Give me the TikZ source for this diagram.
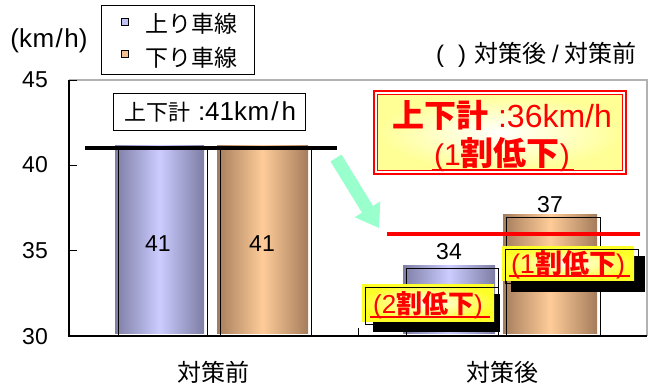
\documentclass[tikz,border=0pt]{standalone}
\usepackage{fontspec}
\setmainfont{Liberation Sans}
\newfontfamily\cjk{Noto Sans CJK JP}
\newcommand\fs[1]{\fontsize{#1}{#1}\selectfont}
\definecolor{bluedark}{RGB}{125,125,165}
\definecolor{bluelight}{RGB}{204,204,255}
\definecolor{ordark}{RGB}{165,125,92}
\definecolor{orlight}{RGB}{255,204,153}
\definecolor{mint}{RGB}{153,255,204}
\definecolor{pyellow}{RGB}{255,255,150}
\definecolor{syellow}{RGB}{255,255,40}
\definecolor{cred}{RGB}{255,0,0}
\tikzset{
  bluebar/.style={left color=bluedark, right color=bluedark, middle color=bluelight},
  orbar/.style={left color=ordark, right color=ordark, middle color=orlight},
  barline/.style={draw=black, line width=1pt},
  ylab/.style={anchor=east, inner sep=0pt, font=\fs{23}},
  lbl/.style={inner sep=0pt},
  callfill/.style={inner color=white, outer color=pyellow},
  smallfill/.style={inner color=white, outer color=syellow},
  uline/.style={draw=cred, line width=2.5pt},
}
\begin{document}
\begin{tikzpicture}[x=1pt,y=-1pt]
\useasboundingbox[fill=white] (0,0) rectangle (653,388);

% plot frame
\draw[gray!60, line width=1.2pt] (69,80) -- (647,80) -- (647,336);
% bars
\shade[bluebar] (115,145) rectangle (204,333);
\draw[barline] (118,148) rectangle (207,336);
\shade[orbar] (217,145) rectangle (308,333);
\draw[barline] (220,148) rectangle (311,336);
\shade[bluebar] (403,265) rectangle (495,333);
\draw[barline] (406,268) rectangle (498,336);
\shade[orbar] (503,214) rectangle (597,333);
\draw[barline] (506,217) rectangle (600,336);
% axes
\draw[line width=1.2pt] (69,80) -- (69,336) -- (647,336);
\foreach \yy in {80,165.3,250.7} \draw[line width=1pt] (69,\yy) -- (77,\yy);
\draw[line width=1pt] (358,336) -- (358,328);

% y labels
\node[ylab] (y45) at (48,80) {45};
\node[ylab] (y40) at (48,165) {40};
\node[ylab] (y35) at (48,251) {35};
\node[ylab] (y30) at (48,337) {30};
\node[lbl, font=\fs{26}] (unit) at (49,41) {(k\kern0.5pt m\kern1.5pt/\kern1.5pt h)};

% legend
\draw[line width=1pt] (101,5) rectangle (254,74);
\draw[line width=0.8pt, fill=bluelight!85!bluedark] (121.7,18) rectangle (128.5,25);
\draw[line width=0.8pt, fill=orlight!85!ordark] (121.7,50) rectangle (128.5,57);
\node[lbl, anchor=west, font=\cjk\fs{23}] (leg1) at (145,24) {上り車線};
\node[lbl, anchor=west, font=\cjk\fs{23}] (leg2) at (145,58) {下り車線};

% note top right
\node[lbl, anchor=east, font=\fs{24}] (note) at (637,55) {(\kern14pt)\kern8pt{\cjk 対策後}\kern6pt/\kern6pt{\cjk 対策前}};

% category labels
\node[lbl, font=\cjk\fs{24}] (c1) at (213,372) {対策前};
\node[lbl, font=\cjk\fs{24}] (c2) at (502,372) {対策後};

% bar values
\node[lbl, font=\fs{23}] (v1) at (158,244) {41};
\node[lbl, font=\fs{23}] (v2) at (262,244) {41};
\node[lbl, font=\fs{23}] (v3) at (449,252) {34};
\node[lbl, font=\fs{23}] (v4) at (550,205) {37};

% before-total box
\node[draw, line width=1pt, fill=white, minimum width=192pt, minimum height=37pt, inner sep=0pt] (tot1) at (209,111.5) {};
\node[lbl, font=\fs{26}] (tot1t) at (210,112) {{\cjk\fs{22}上下計}\kern8pt:41k\kern0.5pt m\kern2pt/\kern3pt h};

% average lines
\draw[line width=4.5pt] (85,148) -- (337,148);
\draw[cred, line width=4.5pt] (387,234) -- (640,234);

% green arrow
\fill[mint] (341.5,154.6) -- (373.0,205.9) -- (380.3,201.4) -- (379,228) -- (354.7,217.2) -- (362.0,212.7) -- (330.5,161.4) -- cycle;

% big callout
\fill[white] (374,91) rectangle (626,174);
\draw[cred, line width=1.4pt] (374,91) rectangle (626,174);
\shade[callfill] (377.5,94.5) rectangle (622.5,170.5);
\draw[cred, line width=1.2pt] (377.5,94.5) rectangle (622.5,170.5);
\node[lbl, text=cred, font=\fs{32}] (big1) at (502,115) {{\cjk\bfseries 上下計}\kern10pt:36km/h};
\node[lbl, text=cred, font=\fs{30}] (big2) at (502,155) {(1{\cjk\bfseries\fs{33}割低下})};
\draw[uline] (432,170) -- (574,170);

% small callout 1
\fill[black] (373,294) rectangle (500,332);
\shade[smallfill] (362,284) rectangle (494,321);
\draw[line width=1pt] (365,287) rectangle (498,324);
\node[lbl, text=cred, font=\fs{26}] (s1) at (428,305) {(2{\cjk\bfseries 割低下})};
\draw[uline] (370,317) -- (490,317);

% small callout 2
\fill[black] (511,256) rectangle (645,292);
\shade[smallfill] (502,246) rectangle (634,280);
\draw[line width=1pt] (505,249) rectangle (638,283);
\node[lbl, text=cred, font=\fs{27}] (s2) at (568,265) {(1{\cjk\bfseries 割低下})};
\draw[uline] (509,276) -- (630,276);
\end{tikzpicture}
\end{document}
